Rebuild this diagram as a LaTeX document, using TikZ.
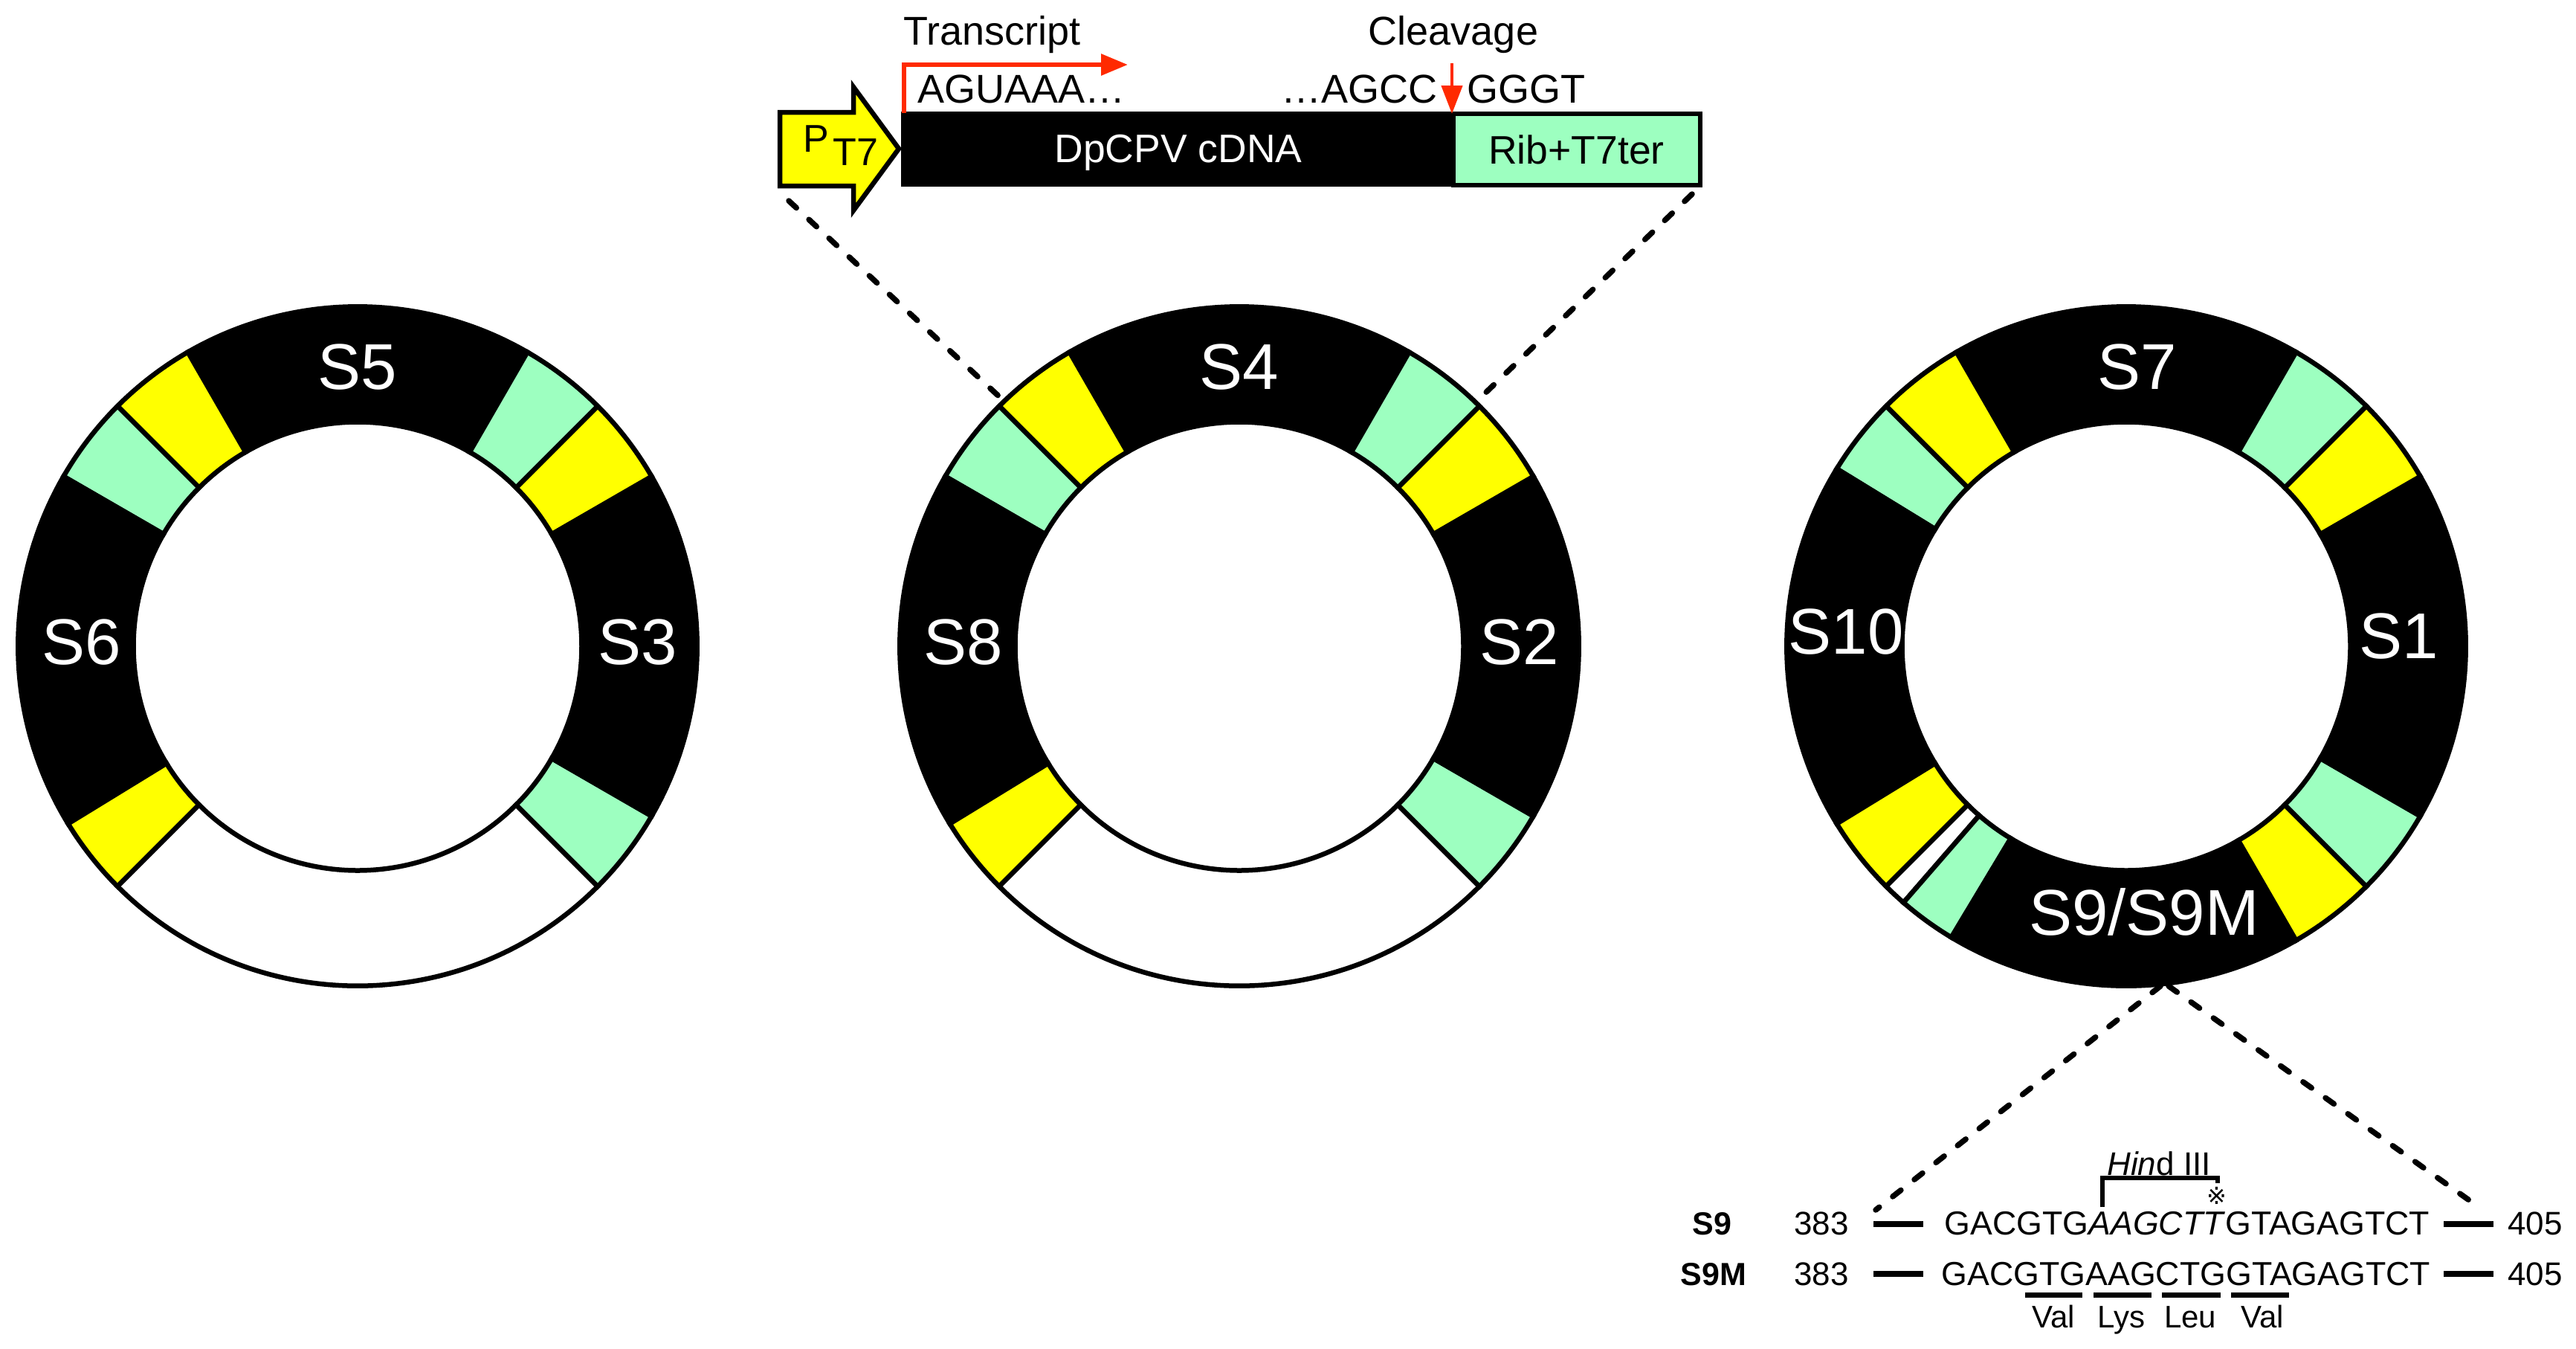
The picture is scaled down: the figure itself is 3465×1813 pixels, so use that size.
\documentclass[tikz,border=0pt]{standalone}
\usepackage{fontspec}
\setmainfont{Liberation Sans}
\newfontfamily\symfont{DejaVu Sans}
\usetikzlibrary{arrows.meta}
\definecolor{ylw}{HTML}{FFFF00}
\definecolor{grn}{HTML}{9DFFC0}
\definecolor{redor}{HTML}{FF2A00}
\newcommand{\fsz}[1]{\fontsize{#1}{#1}\selectfont}
% start angle, end angle, fill
\newcommand{\ringseg}[3]{%
  \filldraw[segline,fill=#3] (#1:456.7) arc[start angle=#1,end angle=#2,radius=456.7]
    -- (#2:301.5) arc[start angle=#2,end angle=#1,radius=301.5] -- cycle;}
\tikzset{
  segline/.style={draw=black,line width=6.5pt,line join=miter},
  ringlabel/.style={text=white,font=\fsz{87},inner sep=0pt},
  toptext/.style={text=black,font=\fsz{54},inner sep=0pt,anchor=base},
  seqtext/.style={text=black,font=\fsz{44.7},inner sep=0pt,anchor=base},
  numtext/.style={text=black,font=\fsz{44},inner sep=0pt,anchor=base},
  aatext/.style={text=black,font=\fsz{42},inner sep=0pt,anchor=base},
  boldtext/.style={text=black,font=\fsz{43}\bfseries,inner sep=0pt,anchor=base},
  zoomline/.style={line width=7.5pt,line cap=round,dash pattern=on 14pt off 23pt,black},
  thickbar/.style={line width=7.5pt,black},
  redline/.style={redor,line width=6pt},
}
\begin{document}
\begin{tikzpicture}[x=1pt,y=1pt]
\useasboundingbox (0,0) rectangle (3465,-1813);
% Ring 1
\begin{scope}[shift={(481,-869)}]
  \ringseg{60}{120}{black}
  \ringseg{120}{135}{ylw}
  \ringseg{135}{150}{grn}
  \ringseg{150}{211.5}{black}
  \ringseg{211.5}{225}{ylw}
  \ringseg{225}{315}{white}
  \ringseg{315}{330}{grn}
  \ringseg{-30}{30}{black}
  \ringseg{30}{45}{ylw}
  \ringseg{45}{60}{grn}
\end{scope}
\node[ringlabel] (s5) at (481,-494) {S5};
\node[ringlabel] (s6) at (110,-864) {S6};
\node[ringlabel] (s3) at (858,-864) {S3};
% Ring 2
\begin{scope}[shift={(1667,-869)}]
  \ringseg{60}{120}{black}
  \ringseg{120}{135}{ylw}
  \ringseg{135}{150}{grn}
  \ringseg{150}{211.5}{black}
  \ringseg{211.5}{225}{ylw}
  \ringseg{225}{315}{white}
  \ringseg{315}{330}{grn}
  \ringseg{-30}{30}{black}
  \ringseg{30}{45}{ylw}
  \ringseg{45}{60}{grn}
  \coordinate (r2l) at (-319,332);
  \coordinate (r2r) at (322,332);
\end{scope}
\node[ringlabel] (s4) at (1667,-494) {S4};
\node[ringlabel] (s8) at (1296,-864) {S8};
\node[ringlabel] (s2) at (2044,-864) {S2};
% Ring 3
\begin{scope}[shift={(2860,-869)}]
  \ringseg{60}{120}{black}
  \ringseg{120}{135}{ylw}
  \ringseg{135}{148.5}{grn}
  \ringseg{148.5}{211.5}{black}
  \ringseg{211.5}{225}{ylw}
  \ringseg{225}{229}{white}
  \ringseg{229}{239}{grn}
  \ringseg{239}{300}{black}
  \ringseg{300}{315}{ylw}
  \ringseg{315}{330}{grn}
  \ringseg{-30}{30}{black}
  \ringseg{30}{45}{ylw}
  \ringseg{45}{60}{grn}
  \coordinate (r3l) at (46,-457);
  \coordinate (r3r) at (57,-457);
\end{scope}
\node[ringlabel] (s7) at (2875,-494) {S7};
\node[ringlabel] (s10) at (2483,-850) {S10};
\node[ringlabel] (s1) at (3227,-856) {S1};
\node[ringlabel] (s9) at (2884,-1226) {S9/S9M};
% Construct
\node[draw=black,line width=5pt,fill=black,minimum width=742pt,minimum height=96pt,inner sep=0pt,anchor=north west] (cdna) at (1212,-150) {};
\node[draw=black,line width=6pt,fill=grn,font=\fsz{53.5},minimum width=332pt,minimum height=96pt,inner sep=0pt,anchor=north west] (rib) at (1951.5,-150) {Rib+T7ter};
\node[text=white,font=\fsz{53.5},inner sep=0pt,anchor=base] (dcpv) at (1585,-218) {DpCPV cDNA};
\filldraw[draw=black,line width=6.5pt,fill=ylw,line join=miter] (1049,-151) -- (1148,-151) -- (1148,-117) -- (1209,-200) -- (1148,-283) -- (1148,-250) -- (1049,-250) -- cycle;
\node[font=\fsz{52},inner sep=0pt] (p) at (1098,-187) {P};
\node[font=\fsz{52},inner sep=0pt] (t7) at (1151,-205) {T7};
% Annotations
\node[toptext,anchor=base west] (tr) at (1215,-60) {Transcript};
\node[toptext] (cl) at (1955,-60) {Cleavage};
\node[toptext,anchor=base west] (ag1) at (1234,-138) {AGUAAA…};
\node[toptext,anchor=base east] (ag2) at (1934,-138) {…AGCC};
\node[toptext,anchor=base west] (gg) at (1973,-138) {GGGT};
\coordinate (tss) at (1216,-152);
\coordinate (tsstip) at (1517,-87);
\draw[redline,-{Triangle[length=36pt,width=28pt]}] (tss) |- (tsstip);
\coordinate (cvs) at (1953,-85);
\coordinate (cvt) at (1953,-153);
\draw[redor,line width=4.5pt,-{Triangle[length=38pt,width=28pt]}] (cvs) -- (cvt);
% Zoom lines
\coordinate (cl1) at (1061,-270);
\coordinate (cl2) at (2276,-261);
\coordinate (sl1) at (2523,-1627);
\coordinate (sl2) at (3334,-1623);
\draw[zoomline] (cl1) -- (r2l);
\draw[zoomline] (cl2) -- (r2r);
\draw[zoomline] (r3l) -- (sl1);
\draw[zoomline] (r3r) -- (sl2);
% Sequences
\node[boldtext] (lab9) at (2303,-1660) {S9};
\node[boldtext] (lab9m) at (2305,-1728) {S9M};
\node[numtext] (n1) at (2450,-1660) {383};
\node[numtext] (n2) at (2450,-1728) {383};
\node[numtext] (n3) at (3410,-1660) {405};
\node[numtext] (n4) at (3410,-1728) {405};
\node[seqtext,anchor=base west] (seq1) at (2615.5,-1660) {GACGTG\textit{AAGCTT}GTAGAGTCT};
\node[seqtext,anchor=base west] (seq2) at (2611.5,-1728) {GACGTGAAGCTGGTAGAGTCT};
\foreach \nm/\ya in {a/1646,b/1713}{
  \coordinate (la\nm) at (2520,-\ya);
  \coordinate (lb\nm) at (2587,-\ya);
  \coordinate (ra\nm) at (3287,-\ya);
  \coordinate (rb\nm) at (3354,-\ya);
  \draw[thickbar] (la\nm) -- (lb\nm);
  \draw[thickbar] (ra\nm) -- (rb\nm);
}
\foreach \nm/\xa/\xb in {u/2724/2801,v/2816/2894,w/2908/2987,z/3001/3079}{
  \coordinate (ua\nm) at (\xa,-1741);
  \coordinate (ub\nm) at (\xb,-1741);
  \draw[line width=7pt,black] (ua\nm) -- (ub\nm);
}
\node[aatext] (aa1) at (2762,-1785) {Val};
\node[aatext] (aa2) at (2853.5,-1785) {Lys};
\node[aatext] (aa3) at (2946,-1785) {Leu};
\node[aatext] (aa4) at (3043,-1785) {Val};
\node[aatext,font=\fsz{44},anchor=base] (hind) at (2904,-1580) {\textit{Hin}d III};
\coordinate (bra) at (2828,-1623);
\coordinate (brb) at (2983,-1591);
\coordinate (brc) at (2828,-1584);
\coordinate (brd) at (2983,-1584);
\draw[line width=6.5pt,black,line join=miter] (bra) -- (brc) -- (brd) -- (brb);
\node[inner sep=0pt,font=\symfont\fsz{32}] (star) at (2982,-1608) {※};
\end{tikzpicture}
\end{document}
